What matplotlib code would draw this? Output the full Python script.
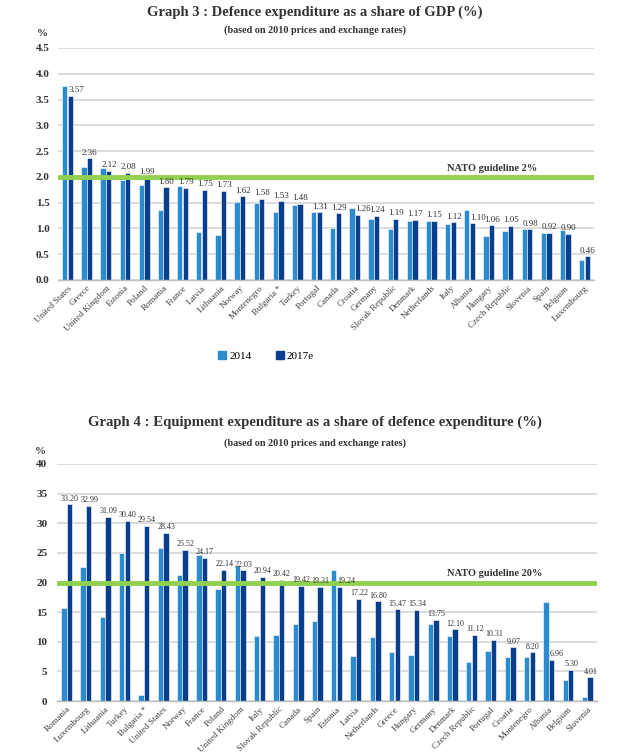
import numpy as np
import matplotlib
matplotlib.use("Agg")
import matplotlib.pyplot as plt
from matplotlib.patches import Patch

plt.rcParams['font.family'] = ['Liberation Serif', 'DejaVu Serif']

# Graph 3 : defence expenditure as share of GDP
gdp_countries = ["United States", "Greece", "United Kingdom", "Estonia", "Poland",
                 "Romania", "France", "Latvia", "Lithuania", "Norway", "Montenegro",
                 "Bulgaria *", "Turkey", "Portugal", "Canada", "Croatia", "Germany",
                 "Slovak Republic", "Denmark", "Netherlands", "Italy", "Albania",
                 "Hungary", "Czech Republic", "Slovenia", "Spain", "Belgium", "Luxembourg"]
gdp_2014 = [3.77, 2.20, 2.17, 1.94, 1.85, 1.35, 1.82, 0.94, 0.88, 1.51, 1.50,
            1.32, 1.45, 1.31, 1.01, 1.39, 1.18, 0.99, 1.15, 1.15, 1.08, 1.35,
            0.86, 0.95, 0.98, 0.92, 0.97, 0.38]
gdp_2017 = [3.57, 2.36, 2.12, 2.08, 1.99, 1.80, 1.79, 1.75, 1.73, 1.62, 1.58,
            1.53, 1.48, 1.31, 1.29, 1.26, 1.24, 1.19, 1.17, 1.15, 1.12, 1.10,
            1.06, 1.05, 0.98, 0.92, 0.90, 0.46]

# Graph 4 : equipment expenditure as share of defence expenditure
eq_countries = ["Romania", "Luxembourg", "Lithuania", "Turkey", "Bulgaria *",
                "United States", "Norway", "France", "Poland", "United Kingdom",
                "Italy", "Slovak Republic", "Canada", "Spain", "Estonia", "Latvia",
                "Netherlands", "Greece", "Hungary", "Germany", "Denmark",
                "Czech Republic", "Portugal", "Croatia", "Montenegro", "Albania",
                "Belgium", "Slovenia"]
eq_2014 = [15.7, 22.6, 14.1, 25.0, 1.1, 25.9, 21.2, 24.6, 18.9, 22.8, 11.0,
           11.2, 13.0, 13.5, 22.1, 7.6, 10.8, 8.2, 7.8, 13.0, 11.0, 6.6, 8.5,
           7.4, 7.5, 16.7, 3.6, 0.7]
eq_2017 = [33.20, 32.99, 31.09, 30.40, 29.54, 28.43, 25.52, 24.17, 22.14, 22.03,
           20.94, 20.42, 19.42, 19.31, 19.24, 17.22, 16.80, 15.47, 15.34, 13.75,
           12.10, 11.12, 10.31, 9.07, 8.20, 6.96, 5.30, 4.01]

light = "#2a8bcf"
dark = "#073f8c"
green = "#92d050"
txt = "#333333"


def draw(ax, names, v14, v17, ymax, ystep, guide, guide_txt, guide_y, lab_pad,
         lab_size, ypad, shift_at):
    x = np.arange(len(names))
    w = 0.28
    ax.set_axisbelow(True)
    ax.yaxis.grid(True, color="#d9d9d9", linewidth=1.3)
    ax.bar(x - 0.145, v14, w, color=light, edgecolor="white", linewidth=0.4, zorder=2)
    ax.bar(x + 0.145, v17, w, color=dark, edgecolor="white", linewidth=0.4, zorder=2)
    ax.axhline(guide, color=green, linewidth=3.5, zorder=3)
    ax.text(0.81, guide_y, guide_txt, transform=ax.get_yaxis_transform(),
            ha="center", va="bottom", fontsize=7.5, fontweight="bold", color=txt)
    for i in range(len(names)):
        # label moved right when the 2014 bar would cover it
        if v14[i] > v17[i] + shift_at:
            ax.text(x[i] + 0.03, v17[i] + lab_pad, "{:.2f}".format(v17[i]), ha="left",
                    va="bottom", fontsize=lab_size, color=txt, zorder=4)
        else:
            ax.text(x[i] + 0.17, v17[i] + lab_pad, "{:.2f}".format(v17[i]), ha="center",
                    va="bottom", fontsize=lab_size, color=txt, zorder=4)
    ax.set_xlim(-0.5, len(names) - 0.5)
    ax.set_ylim(0, ymax)
    ax.set_yticks(np.arange(0, ymax + ystep / 2, ystep))
    ax.set_xticks(x)
    ax.set_xticklabels(names, rotation=45, ha="right", rotation_mode="anchor",
                       fontsize=6.5, color="#444444")
    ax.tick_params(axis="x", length=0, pad=3)
    ax.tick_params(axis="y", length=0, pad=ypad, labelsize=8, labelcolor=txt)
    for s in ["top", "right", "left"]:
        ax.spines[s].set_visible(False)
    ax.spines["bottom"].set_color("#bfbfbf")
    ax.spines["bottom"].set_linewidth(1.0)


fig = plt.figure(figsize=(6.29, 7.53), dpi=100)

ax1 = fig.add_axes([0.0922, 0.6282, 0.8522, 0.3081])
draw(ax1, gdp_countries, gdp_2014, gdp_2017, 4.5, 0.5, 2.0, "NATO guideline 2%",
     2.07, 0.03, 6.5, 6, 0.1)
ax1.yaxis.set_major_formatter(matplotlib.ticker.FormatStrFormatter("%.1f"))
for lbl in ax1.get_yticklabels():
    lbl.set_fontweight("bold")

ax2 = fig.add_axes([0.0906, 0.069, 0.8584, 0.3148])
draw(ax2, eq_countries, eq_2014, eq_2017, 40, 5, 20, "NATO guideline 20%",
     20.7, 0.3, 5.8, 7, 1.5)
for lbl in ax2.get_yticklabels():
    lbl.set_fontweight("bold")

fig.text(0.5, 1 - 12 / 753, "Graph 3 : Defence expenditure as a share of GDP (%)",
         ha="center", va="center", fontsize=10.5, fontweight="bold", color=txt)
fig.text(0.5, 1 - 30 / 753, "(based on 2010 prices and exchange rates)",
         ha="center", va="center", fontsize=7.3, fontweight="bold", color=txt)
fig.text(42 / 629, 1 - 33 / 753, "%", ha="center", va="center", fontsize=8,
         fontweight="bold", color=txt)

fig.text(0.5, 1 - 422 / 753, "Graph 4 : Equipment expenditure as a share of defence expenditure (%)",
         ha="center", va="center", fontsize=10.6, fontweight="bold", color=txt)
fig.text(0.5, 1 - 443 / 753, "(based on 2010 prices and exchange rates)",
         ha="center", va="center", fontsize=7.3, fontweight="bold", color=txt)
fig.text(40 / 629, 1 - 451 / 753, "%", ha="center", va="center", fontsize=8,
         fontweight="bold", color=txt)

handles = [Patch(color=light, label="2014"), Patch(color=dark, label="2017e")]
fig.legend(handles=handles, loc="center", bbox_to_anchor=(0.423, 1 - 356 / 753),
           ncol=2, frameon=False, fontsize=8, handlelength=0.7, handleheight=0.7,
           handletextpad=0.3, columnspacing=2.2)

fig.savefig("out.png", dpi=100)
